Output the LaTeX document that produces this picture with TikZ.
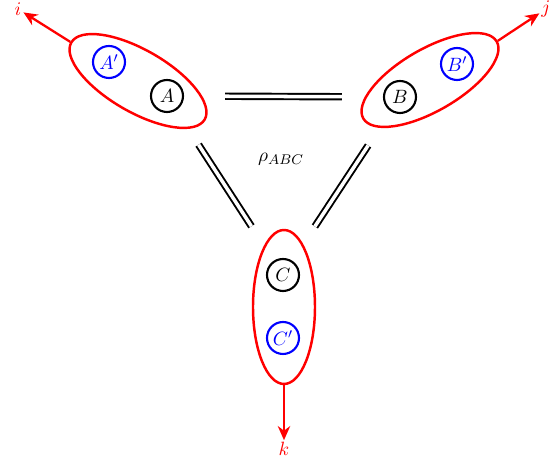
\documentclass[tikz,border=0pt]{standalone}
\usetikzlibrary{shapes.geometric,arrows.meta}
\tikzset{
  every node/.style={font=\fontsize{11}{13}\selectfont},
  party/.style={ellipse,draw=red,line width=1.4pt,inner sep=0pt,minimum width=3.08cm,minimum height=1.24cm},
  sys/.style={circle,draw,very thick,inner sep=0pt,minimum size=0.64cm},
  copy/.style={sys,draw=blue,text=blue},
  arr/.style={red,line width=1.3pt,-{Stealth[length=8pt,width=7pt]}},
  link/.style={line width=1.1pt,double,double distance=2pt,shorten <=0.82cm,shorten >=0.82cm},
  lbl/.style={red,inner sep=1pt}
}
\begin{document}
\begin{tikzpicture}
\useasboundingbox (0,0) rectangle (11.1,-9.28);
\node[party,rotate=-30] (Aell) at (2.76,-1.62) {};
\node[party,rotate=30] (Bell) at (8.60,-1.60) {};
\node[party,rotate=90] (Cell) at (5.68,-6.14) {};
\node[copy] (Ap) at (2.18,-1.24) {$A'$};
\node[sys] (A) at (3.34,-1.92) {$A$};
\node[sys] (B) at (8.00,-1.94) {$B$};
\node[copy] (Bp) at (9.14,-1.28) {$B'$};
\node[sys] (C) at (5.66,-5.50) {$C$};
\node[copy] (Cp) at (5.66,-6.76) {$C'$};
\draw[link] (A) -- (B);
\draw[link] (A) -- (C);
\draw[link] (B) -- (C);
\node at (5.62,-3.18) {$\rho_{ABC}$};
\node[lbl] (i) at (0.36,-0.18) {$i$};
\node[lbl] (j) at (10.92,-0.18) {$j$};
\node[lbl] (k) at (5.68,-8.98) {$k$};
\draw[arr] (Aell.west) -- (i);
\draw[arr] (Bell.east) -- (j);
\draw[arr] (Cell.west) -- (k);
\end{tikzpicture}
\end{document}
